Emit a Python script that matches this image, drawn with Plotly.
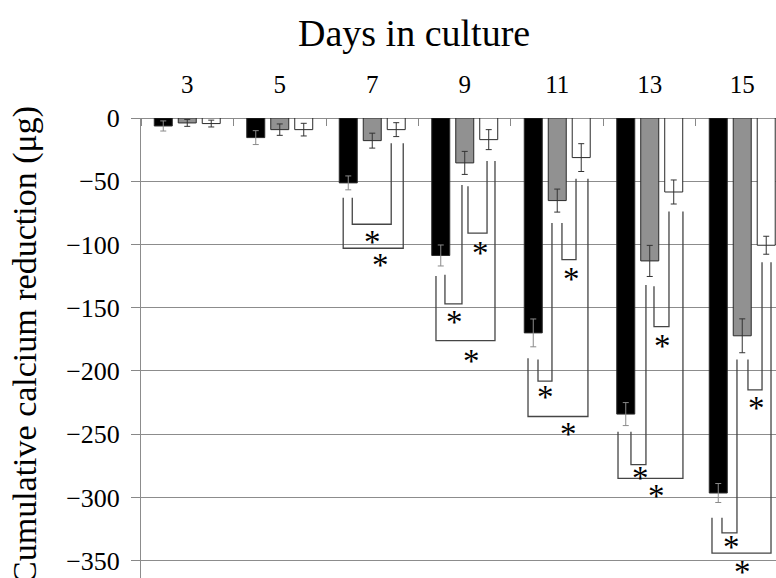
import plotly.graph_objects as go

days = ["3", "5", "7", "9", "11", "13", "15"]
black_vals = [-6.3, -15.5, -51.3, -108.7, -169.9, -234.1, -296.5]
black_err = [4.0, 5.5, 5.5, 8.3, 11.0, 9.1, 7.5]
gray_vals = [-3.9, -9.2, -17.9, -35.5, -65.3, -113.0, -172.2]
gray_err = [2.7, 4.5, 5.9, 9.1, 9.1, 12.3, 13.4]
white_vals = [-4.4, -9.2, -9.2, -17.1, -31.3, -58.5, -100.6]
white_err = [2.7, 5.0, 5.5, 7.9, 11.0, 9.5, 7.1]
y_ticks = [0, -50, -100, -150, -200, -250, -300, -350]

# significance brackets: day index, left x offset, right x offset,
# left leg top, right leg top, bracket bottom, star x offset, star y
brackets = [
    (2, -0.216, 0.205, -63, -20, -84, 0.000, -94),
    (2, -0.314, 0.335, -63, -20, -103, 0.086, -112),
    (3, 0.035, 0.241, -54, -34, -91, 0.165, -103),
    (3, -0.214, -0.030, -124, -53, -147, -0.116, -157),
    (3, -0.311, 0.327, -125, -34, -176, 0.078, -188),
    (4, 0.051, 0.203, -83, -48, -112, 0.149, -123),
    (4, -0.208, -0.057, -191, -83, -208, -0.122, -217),
    (4, -0.316, 0.332, -190, -48, -236, 0.127, -246),
    (5, 0.046, 0.208, -133, -74, -165, 0.143, -176),
    (5, -0.203, -0.041, -248, -132, -274, -0.105, -281),
    (5, -0.343, 0.359, -248, -74, -285, 0.078, -295),
    (6, 0.062, 0.214, -191, -114, -215, 0.149, -225),
    (6, -0.219, -0.057, -316, -191, -328, -0.111, -335),
    (6, -0.327, 0.311, -316, -114, -344, 0.008, -355),
]

x_idx = list(range(len(days)))
FONT = "Liberation Serif"

fig = go.Figure()
series = [
    (black_vals, black_err, "#000000", "#8a8a8a"),
    (gray_vals, gray_err, "#919191", "#333333"),
    (white_vals, white_err, "#ffffff", "#333333"),
]
for vals, errs, col, ecol in series:
    fig.add_trace(go.Bar(
        x=x_idx, y=vals,
        marker=dict(color=col, line=dict(color="#2a2a2a", width=1)),
        error_y=dict(type="data", array=errs, visible=True,
                     color=ecol, thickness=1, width=3),
        showlegend=False,
    ))

shapes = []
annotations = []
for d, xl, xr, ylt, yrt, yb, sdx, sy in brackets:
    x1 = x_idx[d] + xl
    x2 = x_idx[d] + xr
    shapes.append(dict(
        type="path", xref="x", yref="y",
        path=f"M {x1},{ylt} L {x1},{yb} L {x2},{yb} L {x2},{yrt}",
        line=dict(color="#454545", width=1.3),
    ))
    annotations.append(dict(
        x=x_idx[d] + sdx, y=sy, xref="x", yref="y", text="*",
        showarrow=False, font=dict(family=FONT, size=33, color="#000"),
        xanchor="center", yanchor="middle", yshift=-5,
    ))

annotations.append(dict(
    text="Days in culture", xref="paper", yref="paper",
    x=0.43, y=1.185, showarrow=False, xanchor="center", yanchor="middle",
    font=dict(family=FONT, size=38, color="#000"),
))
annotations.append(dict(
    text="Cumulative calcium reduction (μg)", xref="paper", yref="paper",
    x=-0.183, y=1.030, showarrow=False, textangle=-90,
    xanchor="center", yanchor="top",
    font=dict(family=FONT, size=34, color="#000"),
))

fig.update_layout(
    width=776, height=578,
    margin=dict(l=141, r=0, t=118, b=0, autoexpand=False),
    paper_bgcolor="white", plot_bgcolor="white",
    barmode="group", bargap=0.222, bargroupgap=0.25,
    shapes=shapes, annotations=annotations,
    font=dict(family=FONT, color="#000"),
    xaxis=dict(
        side="top", range=[-0.5, 6.365], automargin=False,
        tickmode="array", tickvals=x_idx, ticktext=days,
        ticks="", showgrid=False, zeroline=False,
        showline=False,
        tickfont=dict(family=FONT, size=25),
        ticklabelstandoff=19,
        minor=dict(ticks="inside", ticklen=8, tickcolor="#888",
                   tickmode="linear", tick0=0.5, dtick=1, showgrid=False),
    ),
    yaxis=dict(
        range=[-363.7, 0], automargin=False,
        tickmode="array", tickvals=y_ticks,
        ticks="outside", ticklen=9, tickcolor="#888",
        showgrid=True, gridcolor="#8c8c8c", gridwidth=1,
        zeroline=True, zerolinecolor="#8c8c8c", zerolinewidth=1,
        showline=True, linecolor="#8c8c8c", linewidth=1,
        tickfont=dict(family=FONT, size=26),
        ticklabelstandoff=6,
    ),
)

fig.write_html("out.html", config={"displayModeBar": False},
               post_script="document.body.style.margin='0';")
